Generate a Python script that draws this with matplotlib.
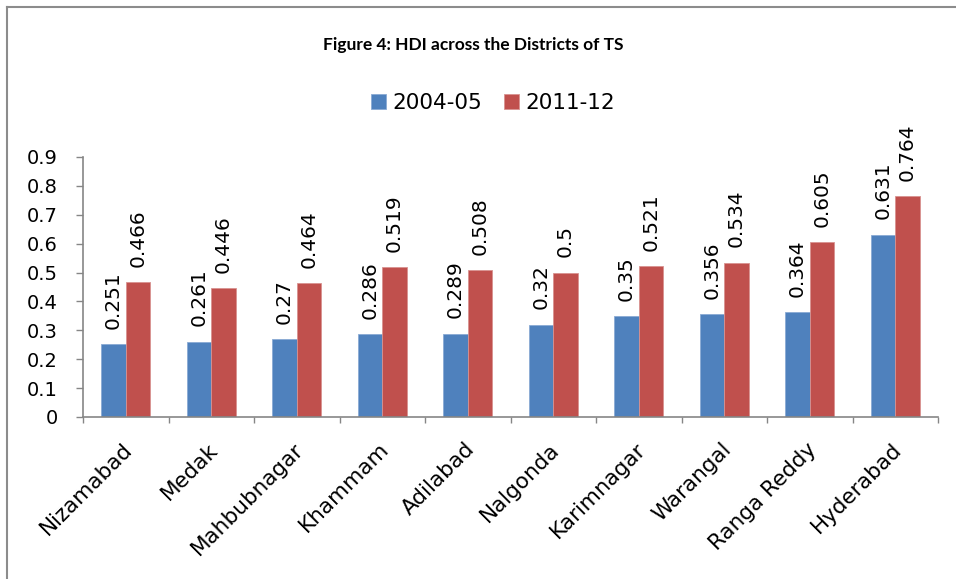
import numpy as np
import matplotlib
matplotlib.use("Agg")
import matplotlib.pyplot as plt
from matplotlib.lines import Line2D

districts = ["Nizamabad", "Medak", "Mahbubnagar", "Khammam", "Adilabad",
             "Nalgonda", "Karimnagar", "Warangal", "Ranga Reddy", "Hyderabad"]
hdi_2004 = [0.251, 0.261, 0.27, 0.286, 0.289, 0.32, 0.35, 0.356, 0.364, 0.631]
hdi_2011 = [0.466, 0.446, 0.464, 0.519, 0.508, 0.5, 0.521, 0.534, 0.605, 0.764]
series_names = ["2004-05", "2011-12"]
yticks = [0, 0.1, 0.2, 0.3, 0.4, 0.5, 0.6, 0.7, 0.8, 0.9]

plt.rcParams["font.family"] = ["DejaVu Sans"]
BLUE, RED, AXIS = "#4F81BD", "#C0504D", "#868686"

fig = plt.figure(figsize=(9.56, 5.79), dpi=100)
ax = fig.add_axes([83/956, 1 - 417/579, (938 - 83)/956, (417 - 157)/579])

x = np.arange(len(districts))
w = 1 / 3.5
b1 = ax.bar(x - w/2, hdi_2004, w, color=BLUE, edgecolor="#8AAAD4", linewidth=0.6, label=series_names[0])
b2 = ax.bar(x + w/2, hdi_2011, w, color=RED, edgecolor="#D89290", linewidth=0.6, label=series_names[1])

for bars, vals in ((b1, hdi_2004), (b2, hdi_2011)):
    for r, v in zip(bars, vals):
        ax.annotate(f"{v:g}", (r.get_x() + r.get_width()/2, v), xytext=(0, 11),
                    textcoords="offset points", rotation=90, ha="center", va="bottom",
                    fontsize=14.5)

ax.set_xlim(-0.5, len(districts) - 0.5)
ax.set_ylim(0, 0.9)
ax.set_yticks(yticks)
ax.set_yticklabels([f"{t:g}" for t in yticks], fontsize=14)
ax.tick_params(axis="y", length=5, color=AXIS, width=1, pad=13)

ax.set_xticks(np.arange(len(districts) + 1) - 0.5)
ax.set_xticklabels([])
ax.tick_params(axis="x", length=4.5, color=AXIS, width=1)
for i, name in enumerate(districts):
    ax.annotate(name, (i + 0.04, 0), xytext=(0, -21), textcoords="offset points",
                rotation=45, ha="right", va="center", rotation_mode="anchor", fontsize=15.5)

for s in ("top", "right"):
    ax.spines[s].set_visible(False)
for s in ("left", "bottom"):
    ax.spines[s].set_color(AXIS)
    ax.spines[s].set_linewidth(1.2)

fig.text(473/956, 1 - 45/579, "Figure 4: HDI across the Districts of TS", ha="center", va="center",
         fontsize=12.5, fontweight="bold", family=["Lato", "DejaVu Sans"])
fig.legend(handles=[b1, b2], loc="center", bbox_to_anchor=(493/956, 1 - 103/579), ncol=2,
           frameon=False, fontsize=15.5, handlelength=0.7, handleheight=0.7,
           handletextpad=0.3, columnspacing=1.0)

# chart border (left and top edges visible)
fig.add_artist(Line2D([7/956, 7/956], [0, 1 - 7/579], color="#8c8c8c", lw=1.5))
fig.add_artist(Line2D([7/956, 1], [1 - 7/579, 1 - 7/579], color="#8c8c8c", lw=1.5))

fig.savefig("out.png", dpi=100, facecolor="white")
